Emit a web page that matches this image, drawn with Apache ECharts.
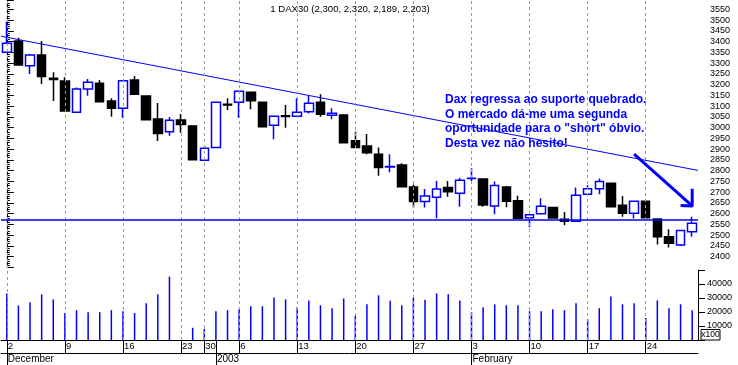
<!DOCTYPE html>
<html>
<head>
<meta charset="utf-8">
<script src="https://cdn.jsdelivr.net/npm/echarts@6/dist/echarts.min.js"></script>
<style>
html,body{margin:0;padding:0;background:#fff;}
#chart{width:738px;height:365px;}
</style>
</head>
<body>
<div id="chart"></div>
<script>
// ---- data ----
const categories = [
 '2002-12-02','2002-12-03','2002-12-04','2002-12-05','2002-12-06',
 '2002-12-09','2002-12-10','2002-12-11','2002-12-12','2002-12-13',
 '2002-12-16','2002-12-17','2002-12-18','2002-12-19','2002-12-20',
 '2002-12-23','2002-12-27','2002-12-30','2003-01-02','2003-01-03',
 '2003-01-06','2003-01-07','2003-01-08','2003-01-09','2003-01-10',
 '2003-01-13','2003-01-14','2003-01-15','2003-01-16','2003-01-17',
 '2003-01-20','2003-01-21','2003-01-22','2003-01-23','2003-01-24',
 '2003-01-27','2003-01-28','2003-01-29','2003-01-30','2003-01-31',
 '2003-02-03','2003-02-04','2003-02-05','2003-02-06','2003-02-07',
 '2003-02-10','2003-02-11','2003-02-12','2003-02-13','2003-02-14',
 '2003-02-17','2003-02-18','2003-02-19','2003-02-20','2003-02-21',
 '2003-02-24','2003-02-25','2003-02-26','2003-02-27','2003-02-28'
];
const openP  = [3350,3403,3288,3338,3229,3217,3071,3180,3206,3124,3090,3221,3147,3040,2981,3035,3008,2848,2908,3108,3118,3164,3118,3011,3055,3053,3074,3118,3057,3059,2939,2914,2876,2817,2826,2724,2656,2676,2722,2695,2763,2761,2635,2724,2660,2581,2600,2629,2574,2564,2690,2716,2741,2639,2602,2657,2575,2493,2454,2516];
const closeP = [3392,3291,3338,3237,3224,3077,3180,3211,3120,3090,3218,3155,3037,2972,3034,3014,2850,2904,3118,3105,3169,3125,3004,3053,3052,3071,3113,3062,3067,2930,2907,2883,2815,2819,2725,2656,2682,2715,2702,2755,2765,2640,2731,2657,2578,2595,2634,2580,2565,2685,2716,2749,2632,2602,2657,2581,2493,2462,2521,2555];
const lowP   = [3348,3290,3249,3203,3124,3077,3071,3148,3117,3051,3046,3155,3037,2938,2962,2976,2850,2848,2908,3082,3046,3085,3004,2946,2999,3053,3065,3051,3039,2930,2907,2876,2776,2792,2725,2628,2628,2578,2679,2632,2752,2632,2597,2630,2574,2537,2598,2577,2546,2563,2688,2690,2629,2586,2577,2580,2457,2443,2450,2493];
const highP  = [3492,3418,3342,3403,3257,3234,3187,3226,3221,3136,3220,3240,3147,3114,3049,3063,3008,2914,3118,3136,3169,3164,3118,3053,3105,3136,3148,3155,3090,3059,2981,2970,2908,2876,2834,2736,2715,2752,2752,2767,2811,2761,2749,2728,2683,2597,2671,2629,2608,2722,2732,2763,2741,2682,2657,2657,2575,2527,2521,2586];
const volume = [33300,24600,26900,32600,29000,19200,21300,19900,19900,21300,20600,19200,26200,32600,45200,0,8700,8000,20600,21300,22000,24100,24100,30400,29000,23400,28300,24800,22700,29700,17100,25500,31900,28100,24800,30400,28800,33300,32600,28300,19700,23400,25500,24800,24800,20600,20600,22000,21300,26200,15000,22700,31100,25500,26200,15700,28300,22700,25500,21300];

const weekStartIdx = [0,5,10,15,17,20,25,30,35,40,45,50,55];
const monthStartIdx = [0,18,40];
const monthNames = ['December','2003','February'];

const supportLevel = 2570;
const trendLine = [[-0.5,3425],[59.5,2801]];
const arrowShaft = [[54.0,2877],[59.0,2636]];
const arrowHead = [[58.0,2638],[59.0,2636],[59.0,2716]];

const titleText = '1 DAX30 (2,300, 2,320, 2,189, 2,203)';
const annotationLines = [
 'Dax regressa ao suporte quebrado.',
 'O mercado dá-me uma segunda',
 'oportunidade para o "short" óbvio.',
 'Desta vez não hesito!'
];

// ---- chart ----
const FONT = '"Liberation Sans", Arial, sans-serif';
const BLUE = '#0000ff';
const candleData = categories.map((c,i)=>[openP[i],closeP[i],lowP[i],highP[i]]);

const chart = echarts.init(document.getElementById('chart'), null, {renderer:'canvas'});

const annotationGraphics = annotationLines.map((t,i)=>({
  type:'text', x:445, y:99.5 + i*14.7, z:100,
  style:{text:t, fill:BLUE, font:'bold 12px '+FONT, textVerticalAlign:'middle', verticalAlign:'middle'}
}));

const option = {
  animation:false,
  backgroundColor:'#ffffff',
  textStyle:{fontFamily:FONT},
  grid:[
    {left:1, right:40, top:0.7, height:266.7},
    {left:1, right:40, top:270, height:70},
    {left:1, right:40, top:0, height:340}
  ],
  xAxis:[
    {type:'category', gridIndex:0, data:categories, boundaryGap:true,
     axisLine:{show:false}, axisTick:{show:false}, axisLabel:{show:false}, splitLine:{show:false}},
    {type:'category', gridIndex:1, data:categories, boundaryGap:true,
     axisLine:{show:true, lineStyle:{color:'#000', width:1}},
     axisTick:{show:true, alignWithLabel:true, length:13, lineStyle:{color:'#000'},
       interval:(i)=>weekStartIdx.includes(i)||monthStartIdx.includes(i)},
     axisLabel:{show:true, interval:(i)=>weekStartIdx.includes(i), align:'left', margin:1,
       padding:[0,0,0,1], fontSize:9.5, color:'#000', fontFamily:FONT,
       formatter:(v)=>String(parseInt(v.slice(8),10))},
     splitLine:{show:false}},
    {type:'category', gridIndex:1, data:categories, boundaryGap:true, position:'bottom', offset:13,
     axisLine:{show:true, lineStyle:{color:'#000', width:1}},
     axisTick:{show:true, alignWithLabel:true, length:12, lineStyle:{color:'#000'},
       interval:(i)=>monthStartIdx.includes(i)},
     axisLabel:{show:true, interval:(i)=>monthStartIdx.includes(i), align:'left', margin:1,
       padding:[0,0,0,1], fontSize:10, color:'#000', fontFamily:FONT,
       formatter:(v,i)=>monthNames[monthStartIdx.indexOf(i)] || ''},
     splitLine:{show:false}},
    {type:'value', gridIndex:0, min:-0.5, max:59.5, show:false},
    {type:'category', gridIndex:2, data:categories, boundaryGap:true, show:false}
  ],
  yAxis:[
    {type:'value', gridIndex:0, position:'right', min:2350, max:3590, interval:50,
     axisLine:{show:true, lineStyle:{color:'#000'}},
     axisTick:{show:true, length:7, lineStyle:{color:'#000'}},
     minorTick:{show:true, splitNumber:5, length:3, lineStyle:{color:'#000'}},
     splitLine:{show:false},
     axisLabel:{margin:12, fontSize:9, color:'#000', fontFamily:FONT,
       formatter:(v)=>(v>=2400&&v<=3550)?String(v):''}},
    {type:'value', gridIndex:1, position:'right', min:0, max:50000, interval:10000,
     axisLine:{show:true, lineStyle:{color:'#000'}},
     axisTick:{show:true, length:7, lineStyle:{color:'#000'}},
     splitLine:{show:false},
     axisLabel:{margin:9, fontSize:9, color:'#000', fontFamily:FONT,
       formatter:(v)=>(v>=10000&&v<=40000)?String(v):''}},
    {type:'value', gridIndex:2, min:0, max:1, show:false}
  ],
  series:[
    {type:'line', xAxisIndex:4, yAxisIndex:2, data:[], z:1, silent:true,
     markLine:{silent:true, symbol:['none','none'], label:{show:false},
       lineStyle:{color:'#9a9a9a', type:[3,3], width:1},
       data: weekStartIdx.map(i=>({xAxis:categories[i]}))}},
    {type:'candlestick', xAxisIndex:0, yAxisIndex:0, data:candleData, barWidth:9, z:3,
     itemStyle:{color:'#ffffff', color0:'#000000', borderColor:BLUE, borderColor0:'#000000', borderWidth:1.5},
     markLine:{silent:true, symbol:['none','none'], label:{show:false},
       lineStyle:{color:BLUE, type:'solid', width:1.5},
       data:[{yAxis:supportLevel}]}},
    {type:'bar', xAxisIndex:1, yAxisIndex:1, data:volume, barWidth:1.5,
     itemStyle:{color:BLUE}},
    {type:'line', xAxisIndex:3, yAxisIndex:0, data:trendLine, symbol:'none', z:4,
     lineStyle:{color:BLUE, width:1}},
    {type:'line', xAxisIndex:3, yAxisIndex:0, data:arrowShaft, symbol:'none', z:5,
     lineStyle:{color:BLUE, width:3}},
    {type:'line', xAxisIndex:3, yAxisIndex:0, data:arrowHead, symbol:'none', z:5,
     lineStyle:{color:BLUE, width:3}}
  ],
  graphic:[
    {type:'text', x:350, y:9, z:100,
     style:{text:titleText, fill:'#000', font:'9.6px '+FONT, textAlign:'center', align:'center', textVerticalAlign:'middle', verticalAlign:'middle'}},
    ...annotationGraphics,
    {type:'rect', shape:{x:701, y:329.5, width:19, height:10.5}, z:100,
     style:{fill:'#fff', stroke:'#000', lineWidth:1}},
    {type:'text', x:710.5, y:335, z:101,
     style:{text:'x100', fill:'#000', font:'8.5px '+FONT, textAlign:'center', align:'center', textVerticalAlign:'middle', verticalAlign:'middle'}}
  ]
};
chart.setOption(option);
</script>
</body>
</html>
